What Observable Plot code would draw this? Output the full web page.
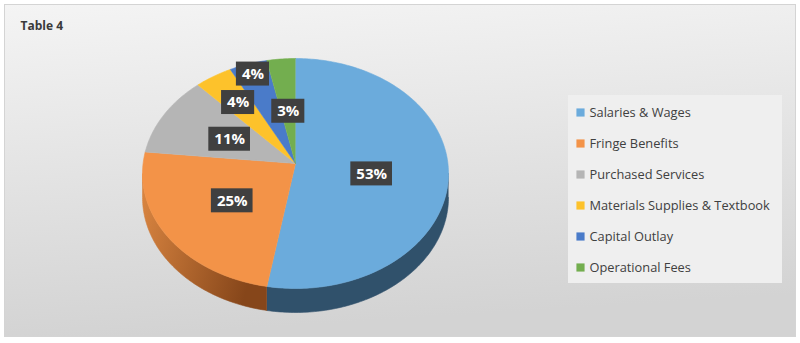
<!DOCTYPE html>
<html><head><meta charset="utf-8">
<script src="https://cdn.jsdelivr.net/npm/d3@7"></script>
<script src="https://cdn.jsdelivr.net/npm/@observablehq/plot@0.6"></script>
<style>html,body{margin:0;padding:0;background:#fff;} svg{display:block}</style>
</head><body><div id="chart"></div>
<script>
// ---- data ----
const title = "Table 4";
const categories = ["Salaries & Wages","Fringe Benefits","Purchased Services","Materials Supplies & Textbook","Capital Outlay","Operational Fees"];
const values = [53, 25, 11, 4, 4, 3];
const colors = ["#6babdc","#f39348","#b5b5b5","#fdc22b","#4a7bc9","#73ae4f"];
const sideColors = ["#30516b","url(#orangeSide)","#7a7a7a","#b08420","#2f5590","#4d7a33"];

// ---- layout ----
const W = 800, H = 343;
const cx = 295, apexY = 163, cy = 173, rx = 153, ry = 115, depth = 24;
const FONT = "'Open Sans', sans-serif";
const total = d3.sum(values);
const deg = Math.PI / 180;
const rim = t => [cx + rx * Math.sin(t), cy - ry * Math.cos(t)];
const slices = [];
{ let acc = 0;
  values.forEach((v, i) => { const a0 = acc / total * 2 * Math.PI; acc += v; const a1 = acc / total * 2 * Math.PI; slices.push({i, cat: categories[i], v, a0, a1}); });
}
function arcPts(a0, a1) { const n = Math.max(2, Math.ceil((a1 - a0) / deg)); return d3.range(n + 1).map(k => rim(a0 + (a1 - a0) * k / n)); }

const topRows = [];
slices.forEach(s => { topRows.push({cat: s.cat, x: cx, y: apexY}); arcPts(s.a0, s.a1).forEach(([x, y]) => topRows.push({cat: s.cat, x, y})); });

const sideMarks = [];
slices.forEach(s => {
  const lo = Math.max(s.a0, Math.PI / 2), hi = Math.min(s.a1, 3 * Math.PI / 2);
  if (hi <= lo) return;
  const pts = arcPts(lo, hi);
  const rows = pts.map(([x, y]) => ({x, y})).concat(pts.slice().reverse().map(([x, y]) => ({x, y: y + depth})));
  sideMarks.push(Plot.line(rows, {x: "x", y: "y", fill: sideColors[s.i], stroke: sideColors[s.i], strokeWidth: 0.6}));
});

const shadowRows = arcPts(0, 2 * Math.PI).map(([x, y]) => ({x: x + 6, y: y + depth + 4}));

// labels with simple collision avoidance
const ctx = document.createElement("canvas").getContext("2d");
ctx.font = "bold 15px " + FONT;
const boxH = 24, pad = 4;
const labels = [];
slices.forEach(s => {
  const m = (s.a0 + s.a1) / 2; const [bx, by] = rim(m);
  const text = s.v + "%"; const w = ctx.measureText(text).width + 11;
  let f = 0.5, L;
  for (; f < 1.3; f += 0.1) {
    L = {text, w, x: cx + f * (bx - cx), y: apexY + f * (by - apexY)};
    const hit = labels.some(o => Math.abs(o.x - L.x) < (o.w + L.w) / 2 + pad && Math.abs(o.y - L.y) < boxH + pad);
    if (!hit) break;
  }
  labels.push(L);
});

// legend
const legX = 580, legY0 = 112, legStep = 31;
const legend = categories.map((c, i) => ({cat: c, y: legY0 + i * legStep}));

const plot = Plot.plot({
  width: W, height: H, margin: 0,
  x: {domain: [0, W], range: [0, W], axis: null},
  y: {domain: [0, H], range: [0, H], axis: null},
  color: {domain: categories, range: colors},
  style: {fontFamily: FONT, background: "#fff"},
  marks: [
    Plot.frame({fill: "url(#bg)", stroke: "#d4d4d4", insetLeft: 4, insetTop: 4, insetRight: 5, insetBottom: 7}),
    Plot.text([title], {x: 20, y: 26, text: d => d, textAnchor: "start", fontWeight: "bold", fontSize: 12, fill: "#3a3a3a"}),
    Plot.line(shadowRows, {x: "x", y: "y", fill: "#000", fillOpacity: 0.22, ariaLabel: "pie-shadow"}),
    ...sideMarks,
    Plot.line(topRows, {x: "x", y: "y", z: "cat", fill: "cat", stroke: "cat", strokeWidth: 0.6}),
    Plot.rect(labels, {x1: d => d.x - d.w / 2, x2: d => d.x + d.w / 2, y1: d => d.y - boxH / 2, y2: d => d.y + boxH / 2, fill: "#404040", ariaLabel: "label-box"}),
    Plot.text(labels, {x: "x", y: "y", text: "text", fill: "#fff", fontWeight: "bold", fontSize: 15}),
    Plot.rect([0], {x1: legX - 12, x2: 782, y1: legY0 - 17, y2: legY0 + (categories.length - 1) * legStep + 16, fill: "#efefef"}),
    Plot.dot(legend, {x: legX, y: "y", symbol: "square", r: 4.6, fill: "cat"}),
    Plot.text(legend, {x: legX + 9, y: "y", text: "cat", textAnchor: "start", fontSize: 12.8, fill: "#404040"})
  ]
});

const defs = d3.select(plot).insert("defs", ":first-child");
const bg = defs.append("linearGradient").attr("id", "bg").attr("x1", 0).attr("y1", 0).attr("x2", 0.15).attr("y2", 1);
bg.append("stop").attr("offset", 0).attr("stop-color", "#f4f4f4");
bg.append("stop").attr("offset", 1).attr("stop-color", "#d3d3d3");
const os = defs.append("linearGradient").attr("id", "orangeSide").attr("x1", 0).attr("y1", 0).attr("x2", 1).attr("y2", 0.3);
os.append("stop").attr("offset", 0).attr("stop-color", "#dc8742");
os.append("stop").attr("offset", 1).attr("stop-color", "#86461a");
const blur = defs.append("filter").attr("id", "blur").attr("x", "-20%").attr("y", "-20%").attr("width", "140%").attr("height", "140%");
blur.append("feGaussianBlur").attr("stdDeviation", 5);
const ds = defs.append("filter").attr("id", "ds").attr("x", "-30%").attr("y", "-30%").attr("width", "160%").attr("height", "160%");
ds.append("feDropShadow").attr("dx", 1.5).attr("dy", 1.5).attr("stdDeviation", 1.2).attr("flood-color", "#000").attr("flood-opacity", 0.45);
d3.select(plot).select("g[aria-label='pie-shadow']").attr("filter", "url(#blur)");
d3.select(plot).select("g[aria-label='label-box']").attr("filter", "url(#ds)");
document.getElementById("chart").append(plot);
</script>
</body></html>
